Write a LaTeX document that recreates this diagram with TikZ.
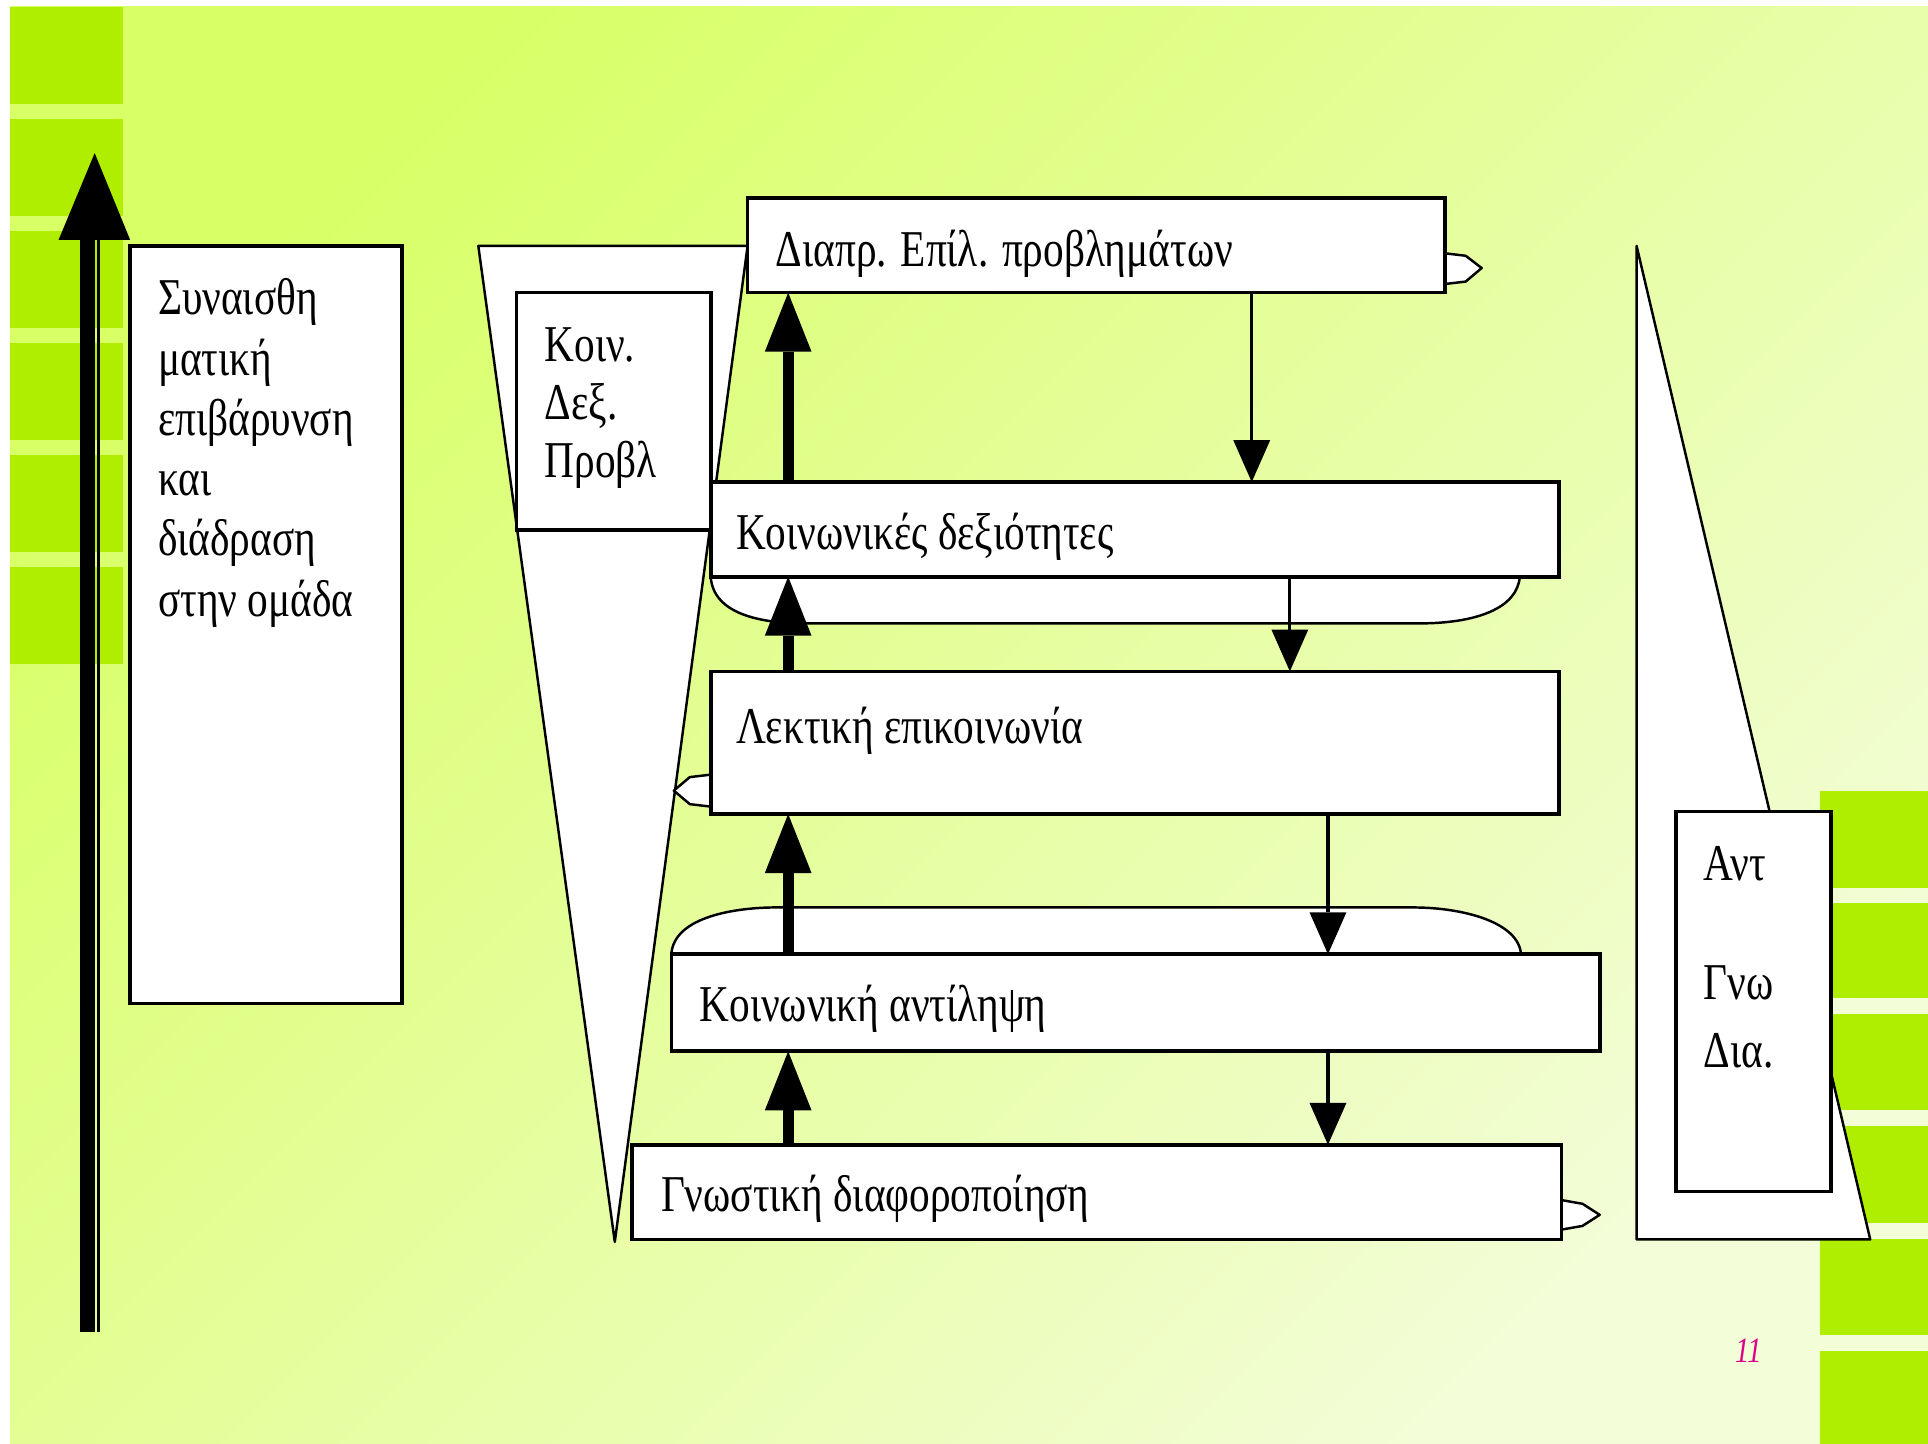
\documentclass[tikz,border=0pt]{standalone}
\usepackage{fontspec}
\setmainfont{Liberation Serif}
\newfontfamily\gr[FakeStretch=0.8]{Liberation Serif}
\usetikzlibrary{arrows.meta}
\definecolor{bgA}{HTML}{D8FF66}
\definecolor{bgM}{HTML}{E2FF9C}
\definecolor{bgB}{HTML}{F3FDD8}
\definecolor{sq}{HTML}{B0EE00}
\definecolor{pgnum}{RGB}{221,0,136}
\begin{document}
\begin{tikzpicture}[x=1pt,y=-1pt,
  box/.style={draw=black, line width=3pt, fill=white, inner sep=0pt, outer sep=0pt, anchor=north west},
  txt/.style={font=\gr\fontsize{42}{49}\selectfont, anchor=base west, inner sep=0pt, outer sep=0pt},
  upar/.style={line width=9pt, -{Triangle[width=38pt,length=48pt,line width=0pt]}},
  dnar/.style={line width=2.5pt, -{Triangle[width=30pt,length=34pt,line width=0pt]}},
  wshape/.style={draw=black, fill=white, line width=2pt, line join=round}]
\useasboundingbox (0,0) rectangle (1568,1174);
% background
\fill[white] (0,0) rectangle (1568,1174);
\shade[top color=bgA, middle color=bgM, bottom color=bgB, shading angle=45] (8,5.5) rectangle (1568,1174);
% green squares
\foreach \i in {0,...,5} {
  \fill[sq] (8,5.5+91.1*\i) rectangle (100,84.5+91.1*\i);
}
\foreach \y/\h in {643/722, 734/812, 825/903, 916/995, 1008/1086, 1099/1174} {
  \fill[sq] (1480,\y) rectangle (1568,\h);
}
% left big arrow
\coordinate (atip) at (77,124.5);
\coordinate (abot) at (71.5,1083);
\fill (65.4,195) rectangle (77.3,1083);
\fill (78.8,195) rectangle (81.7,1083);
\fill (47.7,195) -- (atip) -- (105.8,195) -- cycle;
% left text box
\node[box, minimum width=221pt, minimum height=616pt] (sb) at (106,200) {};
\node[txt] (s1) at (128.6,256) {Συναισθη};
\node[txt] (s2) at (128.6,305) {ματική};
\node[txt] (s3) at (128.6,354) {επιβάρυνση};
\node[txt] (s4) at (128.6,403) {και};
\node[txt] (s5) at (128.6,452) {διάδραση};
\node[txt] (s6) at (128.6,501) {στην ομάδα};
% funnel
\path[wshape] (389,200) -- (608,200) -- (500,1010) -- cycle;
\node[box, minimum width=158pt, minimum height=193pt] (kb) at (420,238) {};
\node[txt] (k1t) at (443,294) {Κοιν.};
\node[txt] (k2t) at (443,341) {Δεξ.};
\node[txt] (k3t) at (443,388) {Προβλ};
% right triangle
\path[wshape] (1331,200) -- (1331,1008) -- (1521,1008) -- cycle;
\node[box, minimum width=126pt, minimum height=309pt] (rb) at (1363,660) {};
\node[txt] (r1) at (1385.6,716) {Αντ};
\node[txt] (r2) at (1385.6,812.6) {Γνω};
\node[txt] (r3) at (1385.6,868) {Δια.};
% rounded shapes and bumps
\path[wshape] (578,469) .. controls (580,500) and (620,507) .. (655,507) -- (1154,507) .. controls (1200,507) and (1234,495) .. (1236,469) -- cycle;
\path[wshape] (546,776) .. controls (548,745) and (600,738) .. (631,738) -- (1149,738) .. controls (1190,738) and (1235,750) .. (1237,776) -- cycle;
\path[wshape] (1175,206) -- (1192,208) -- (1205,218) -- (1192,229) -- (1175,231) -- cycle;
\path[wshape] (578,630) -- (561,632) -- (548,643) -- (561,654) -- (578,656) -- cycle;
\path[wshape] (1270,976) -- (1287,979) -- (1301,988) -- (1287,997) -- (1270,1000) -- cycle;
% main boxes
\node[box, minimum width=567pt, minimum height=77pt] (d1) at (608,161) {};
\node[txt] (d1t) at (631,217) {Διαπρ. Επίλ. προβλημάτων};
\node[box, minimum width=690pt, minimum height=77pt] (k1) at (578,392) {};
\node[txt] (k1x) at (598.6,447) {Κοινωνικές δεξιότητες};
\node[box, minimum width=690pt, minimum height=116pt] (l1) at (578,546) {};
\node[txt] (l1t) at (598.6,605) {Λεκτική επικοινωνία};
\node[box, minimum width=755pt, minimum height=79pt] (a1) at (546,776) {};
\node[txt] (a1t) at (569,831) {Κοινωνική αντίληψη};
\node[box, minimum width=756pt, minimum height=77pt] (g1) at (514,931) {};
\node[txt] (g1t) at (537.6,985) {Γνωστική διαφοροποίηση};
% connectors
\coordinate (ux) at (641,0);
\coordinate (dx1) at (1018,0);
\coordinate (dx2) at (1049,0);
\coordinate (dx3) at (1080,0);
\draw[upar] (k1.north -| ux) -- (d1.south -| ux);
\draw[upar] (l1.north -| ux) -- (k1.south -| ux);
\draw[upar] (a1.north -| ux) -- (l1.south -| ux);
\draw[upar] (g1.north -| ux) -- (a1.south -| ux);
\draw[dnar] (d1.south -| dx1) -- (k1.north -| dx1);
\draw[dnar] (k1.south -| dx2) -- (l1.north -| dx2);
\draw[dnar] (l1.south -| dx3) -- (a1.north -| dx3);
\draw[dnar] (a1.south -| dx3) -- (g1.north -| dx3);
% page number
\node[font=\gr\itshape\fontsize{29}{30}\selectfont, text=pgnum, anchor=base west, inner sep=0pt] (pg) at (1411,1108) {11};
\end{tikzpicture}
\end{document}
